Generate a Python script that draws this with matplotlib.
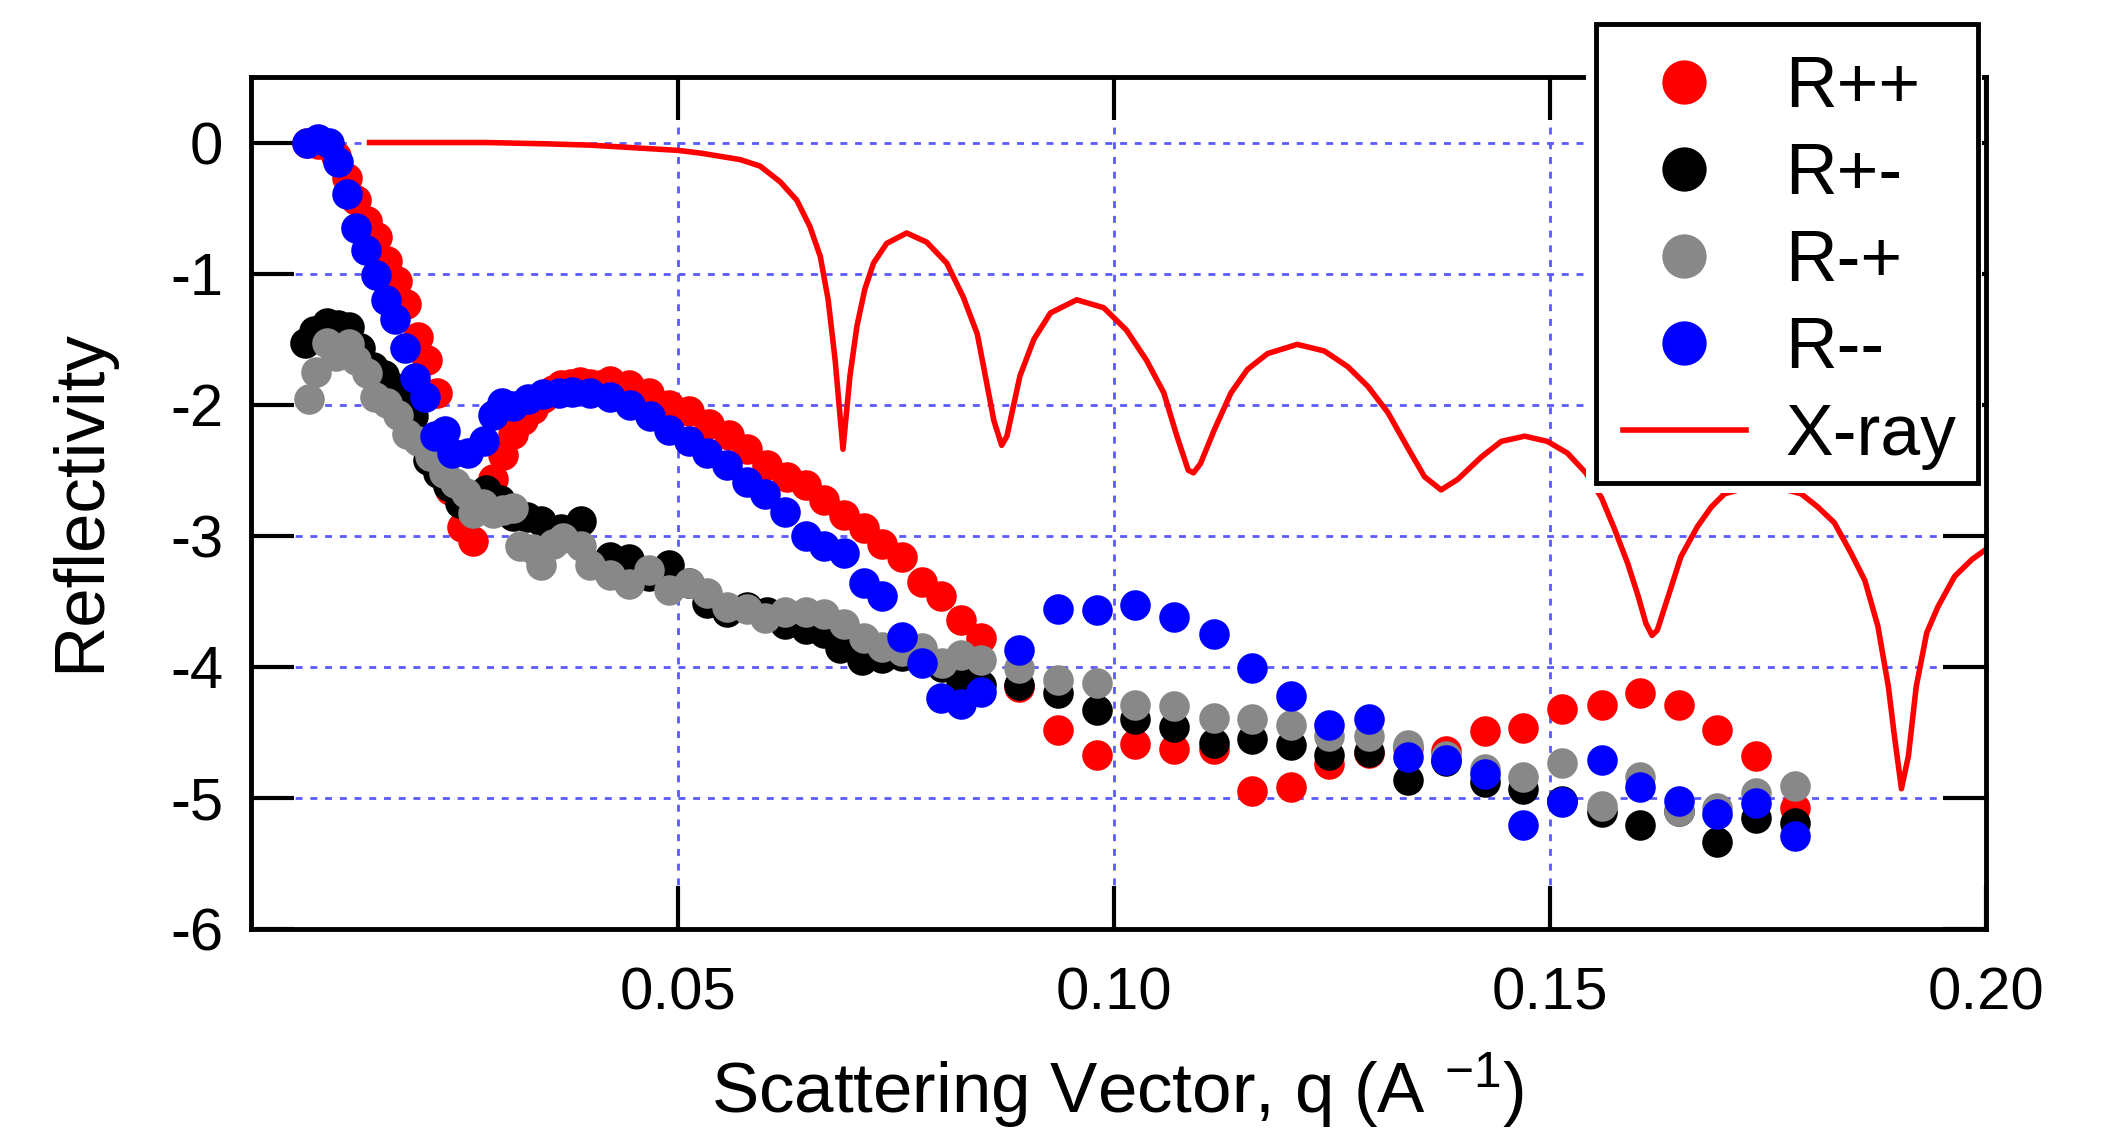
import matplotlib
matplotlib.use('Agg')
import matplotlib.pyplot as plt
from matplotlib.patches import Rectangle

plt.rcParams['font.family'] = ['Liberation Sans', 'DejaVu Sans']
plt.rcParams['axes.unicode_minus'] = False
plt.rcParams['mathtext.fontset'] = 'custom'
plt.rcParams['mathtext.rm'] = 'Liberation Sans'
plt.rcParams['mathtext.default'] = 'regular'

# R++ (red)
q_pp = [0.0074, 0.0087, 0.0100, 0.0108, 0.0120, 0.0131, 0.0143, 0.0154, 0.0166, 0.0177,
        0.0188, 0.0202, 0.0212, 0.0223, 0.0238, 0.0252, 0.0265, 0.0288, 0.0299, 0.0311,
        0.0322, 0.0334, 0.0345, 0.0356, 0.0366, 0.0377, 0.0387, 0.0399, 0.0410, 0.0422,
        0.0443, 0.0466, 0.0489, 0.0512, 0.0535, 0.0558, 0.0579, 0.0602, 0.0625, 0.0646,
        0.0667, 0.0690, 0.0713, 0.0734, 0.0757, 0.0780, 0.0801, 0.0824, 0.0847, 0.0891,
        0.0936, 0.0980, 0.1024, 0.1069, 0.1114, 0.1158, 0.1203, 0.1247, 0.1292, 0.1337,
        0.1381, 0.1425, 0.1469, 0.1514, 0.1559, 0.1603, 0.1648, 0.1692, 0.1736, 0.1781]
r_pp = [0.00, -0.01, -0.03, -0.10, -0.27, -0.44, -0.60, -0.72, -0.90, -1.06,
        -1.23, -1.48, -1.66, -1.91, -2.65, -2.93, -3.04, -2.57, -2.38, -2.22,
        -2.12, -2.03, -1.95, -1.89, -1.85, -1.84, -1.83, -1.84, -1.85, -1.82,
        -1.85, -1.91, -2.00, -2.05, -2.15, -2.23, -2.34, -2.46, -2.55, -2.61,
        -2.73, -2.84, -2.94, -3.06, -3.16, -3.35, -3.46, -3.64, -3.78, -4.15,
        -4.48, -4.67, -4.59, -4.63, -4.63, -4.95, -4.92, -4.74, -4.66, -4.62,
        -4.64, -4.49, -4.47, -4.32, -4.29, -4.20, -4.29, -4.48, -4.68, -5.08]

# R+- (black)
q_pm = [0.0072, 0.0082, 0.0097, 0.0110, 0.0122, 0.0135, 0.0150, 0.0162, 0.0175, 0.0189,
        0.0196, 0.0204, 0.0213, 0.0225, 0.0236, 0.0250, 0.0265, 0.0280, 0.0296, 0.0311,
        0.0327, 0.0343, 0.0366, 0.0388, 0.0422, 0.0443, 0.0466, 0.0489, 0.0512, 0.0533,
        0.0556, 0.0579, 0.0602, 0.0623, 0.0646, 0.0667, 0.0686, 0.0711, 0.0734, 0.0757,
        0.0780, 0.0803, 0.0824, 0.0847, 0.0891, 0.0936, 0.0980, 0.1024, 0.1069, 0.1114,
        0.1158, 0.1203, 0.1247, 0.1292, 0.1337, 0.1381, 0.1425, 0.1469, 0.1514, 0.1559,
        0.1603, 0.1648, 0.1692, 0.1736, 0.1781]
r_pm = [-1.53, -1.44, -1.38, -1.39, -1.41, -1.57, -1.71, -1.77, -1.87, -1.99,
        -2.09, -2.27, -2.42, -2.52, -2.62, -2.75, -2.74, -2.65, -2.73, -2.85,
        -2.86, -2.89, -2.95, -2.89, -3.16, -3.18, -3.31, -3.22, -3.36, -3.51,
        -3.58, -3.54, -3.58, -3.67, -3.71, -3.74, -3.86, -3.95, -3.93, -3.92,
        -3.92, -4.00, -4.10, -4.14, -4.14, -4.20, -4.33, -4.40, -4.46, -4.58,
        -4.55, -4.60, -4.67, -4.65, -4.86, -4.72, -4.88, -4.93, -5.02, -5.11,
        -5.21, -5.10, -5.34, -5.15, -5.19]

# R-+ (grey)
q_mp = [0.0076, 0.0085, 0.0097, 0.0108, 0.0122, 0.0131, 0.0143, 0.0152, 0.0166, 0.0179,
        0.0189, 0.0202, 0.0215, 0.0231, 0.0244, 0.0257, 0.0265, 0.0276, 0.0288, 0.0299,
        0.0311, 0.0319, 0.0333, 0.0343, 0.0356, 0.0368, 0.0388, 0.0399, 0.0422, 0.0443,
        0.0466, 0.0489, 0.0512, 0.0533, 0.0556, 0.0579, 0.0600, 0.0623, 0.0646, 0.0667,
        0.0690, 0.0713, 0.0734, 0.0757, 0.0780, 0.0803, 0.0824, 0.0847, 0.0891, 0.0936,
        0.0980, 0.1024, 0.1069, 0.1114, 0.1158, 0.1203, 0.1247, 0.1292, 0.1337, 0.1381,
        0.1425, 0.1469, 0.1514, 0.1559, 0.1603, 0.1648, 0.1692, 0.1736, 0.1781]
r_mp = [-1.96, -1.75, -1.53, -1.63, -1.54, -1.66, -1.76, -1.94, -1.99, -2.08,
        -2.22, -2.28, -2.39, -2.52, -2.60, -2.67, -2.83, -2.76, -2.83, -2.80,
        -2.79, -3.08, -3.10, -3.22, -3.06, -3.02, -3.08, -3.22, -3.30, -3.37,
        -3.26, -3.41, -3.36, -3.44, -3.54, -3.56, -3.63, -3.58, -3.58, -3.60,
        -3.67, -3.78, -3.85, -3.88, -3.86, -3.97, -3.91, -3.95, -4.01, -4.10,
        -4.12, -4.29, -4.30, -4.39, -4.40, -4.44, -4.53, -4.53, -4.60, -4.68,
        -4.78, -4.84, -4.73, -5.06, -4.84, -5.10, -5.08, -4.96, -4.91]

# R-- (blue)
q_mm = [0.0074, 0.0087, 0.0100, 0.0110, 0.0120, 0.0130, 0.0142, 0.0153, 0.0165, 0.0175,
        0.0187, 0.0198, 0.0210, 0.0221, 0.0232, 0.0240, 0.0259, 0.0277, 0.0288, 0.0298,
        0.0311, 0.0328, 0.0345, 0.0363, 0.0378, 0.0399, 0.0422, 0.0445, 0.0468, 0.0489,
        0.0512, 0.0533, 0.0556, 0.0579, 0.0600, 0.0623, 0.0646, 0.0667, 0.0690, 0.0713,
        0.0734, 0.0757, 0.0780, 0.0801, 0.0824, 0.0847, 0.0891, 0.0936, 0.0980, 0.1024,
        0.1069, 0.1114, 0.1158, 0.1203, 0.1247, 0.1292, 0.1337, 0.1381, 0.1425, 0.1469,
        0.1514, 0.1559, 0.1603, 0.1648, 0.1692, 0.1736, 0.1781]
r_mm = [0.00, 0.03, 0.00, -0.15, -0.39, -0.65, -0.82, -1.01, -1.20, -1.35,
        -1.57, -1.80, -1.94, -2.24, -2.20, -2.37, -2.37, -2.28, -2.08, -1.99,
        -2.01, -1.96, -1.92, -1.91, -1.90, -1.91, -1.94, -2.00, -2.09, -2.19,
        -2.28, -2.37, -2.46, -2.59, -2.68, -2.82, -3.00, -3.08, -3.13, -3.36,
        -3.46, -3.77, -3.97, -4.24, -4.28, -4.19, -3.87, -3.56, -3.57, -3.53,
        -3.62, -3.75, -4.01, -4.22, -4.44, -4.40, -4.69, -4.71, -4.82, -5.21,
        -5.03, -4.71, -4.92, -5.02, -5.12, -5.04, -5.29]

# X-ray curve
q_xray = [0.0146, 0.0200, 0.0280, 0.0350, 0.0400, 0.0450, 0.0500, 0.0525, 0.0571, 0.0594,
          0.0617, 0.0636, 0.0651, 0.0663, 0.0672, 0.0680, 0.0689, 0.0697, 0.0705, 0.0714,
          0.0724, 0.0739, 0.0762, 0.0785, 0.0808, 0.0827, 0.0843, 0.0854, 0.0862, 0.0871,
          0.0877, 0.0892, 0.0908, 0.0927, 0.0957, 0.0988, 0.1014, 0.1037, 0.1057, 0.1072,
          0.1085, 0.1091, 0.1099, 0.1115, 0.1134, 0.1153, 0.1176, 0.1210, 0.1241, 0.1268,
          0.1291, 0.1314, 0.1336, 0.1356, 0.1375, 0.1394, 0.1421, 0.1444, 0.1471, 0.1497,
          0.1520, 0.1541, 0.1559, 0.1574, 0.1589, 0.1601, 0.1610, 0.1617, 0.1623, 0.1639,
          0.1650, 0.1669, 0.1685, 0.1700, 0.1744, 0.1788, 0.1807, 0.1826, 0.1845, 0.1861,
          0.1876, 0.1888, 0.1895, 0.1903, 0.1911, 0.1920, 0.1932, 0.1945, 0.1964, 0.1984,
          0.2005]
r_xray = [0.00, 0.00, 0.00, -0.01, -0.02, -0.04, -0.06, -0.08, -0.13, -0.18,
          -0.30, -0.44, -0.64, -0.87, -1.20, -1.66, -2.34, -1.78, -1.40, -1.12,
          -0.92, -0.77, -0.69, -0.76, -0.92, -1.18, -1.46, -1.84, -2.12, -2.31,
          -2.24, -1.78, -1.50, -1.30, -1.20, -1.26, -1.43, -1.66, -1.91, -2.24,
          -2.50, -2.52, -2.45, -2.19, -1.91, -1.73, -1.61, -1.54, -1.59, -1.71,
          -1.86, -2.06, -2.32, -2.55, -2.65, -2.57, -2.40, -2.28, -2.24, -2.28,
          -2.37, -2.52, -2.71, -2.95, -3.21, -3.46, -3.67, -3.76, -3.72, -3.39,
          -3.16, -2.93, -2.78, -2.68, -2.60, -2.68, -2.78, -2.90, -3.13, -3.34,
          -3.69, -4.15, -4.53, -4.93, -4.68, -4.15, -3.74, -3.54, -3.31, -3.18,
          -3.08]

labels = ['R++', 'R+-', 'R-+', 'R--']
colors = ['#ff0000', '#000000', '#888888', '#0000ff']
x_ticks = [0.05, 0.10, 0.15, 0.20]
x_ticklabels = ['0.05', '0.10', '0.15', '0.20']
y_ticks = [0, -1, -2, -3, -4, -5, -6]

W, H = 2103, 1129
fig = plt.figure(figsize=(W / 100, H / 100), dpi=100)
ax = fig.add_axes([251 / W, 1 - 929 / H, 1735 / W, 852 / H])

xray_line, = ax.plot(q_xray, r_xray, color='#ff0000', lw=4, zorder=2,
                     solid_joinstyle='round')

handles = []
for q, r, c in zip([q_pp, q_pm, q_mp, q_mm], [r_pp, r_pm, r_mp, r_mm], colors):
    h, = ax.plot(q, r, 'o', ms=22, mew=0, color=c, zorder=3)
    handles.append(h)
handles.append(xray_line)

ax.set_xlim(0.001, 0.2)
ax.set_ylim(-6, 0.5)
ax.set_xticks(x_ticks)
ax.set_xticklabels(x_ticklabels)
ax.set_yticks(y_ticks)
ax.set_yticklabels([str(v) for v in y_ticks])

ax.grid(True, color='#5a5aff', lw=2, linestyle=(0, (2.5, 2.8)))
ax.tick_params(direction='in', length=31, width=3, top=True, right=True, labelsize=43)
ax.tick_params(axis='x', pad=27)
ax.tick_params(axis='y', pad=20)
for s in ax.spines.values():
    s.set_linewidth(3.5)

fig.text(81 / W, 1 - 501 / H, 'Reflectivity', rotation=90, ha='center', va='center', fontsize=51)
fig.text(1118 / W, 1 - 1113 / H, r'Scattering Vector, q (A $^{-1}$)', ha='center',
         va='baseline', fontsize=51)

# white margin and black frame of the legend box
fig.add_artist(Rectangle((1586 / W, 1 - 493 / H), 396 / W, 479 / H, transform=fig.transFigure,
                         facecolor='white', edgecolor='none', zorder=3))
fig.add_artist(Rectangle((1596 / W, 1 - 483 / H), 382 / W, 459 / H, transform=fig.transFigure,
                         facecolor='white', edgecolor='black', lw=3.5, zorder=4))

leg = fig.legend(handles, labels + ['X-ray'], loc='upper right',
                 bbox_to_anchor=(1978 / W, 1 - 33 / H), bbox_transform=fig.transFigure,
                 borderaxespad=0, fontsize=51.5, markerscale=1.45, handlelength=1.73,
                 handletextpad=0.54, labelspacing=0.28, borderpad=0.31, frameon=False)
leg.set_zorder(5)

fig.savefig('out.png', dpi=100)
